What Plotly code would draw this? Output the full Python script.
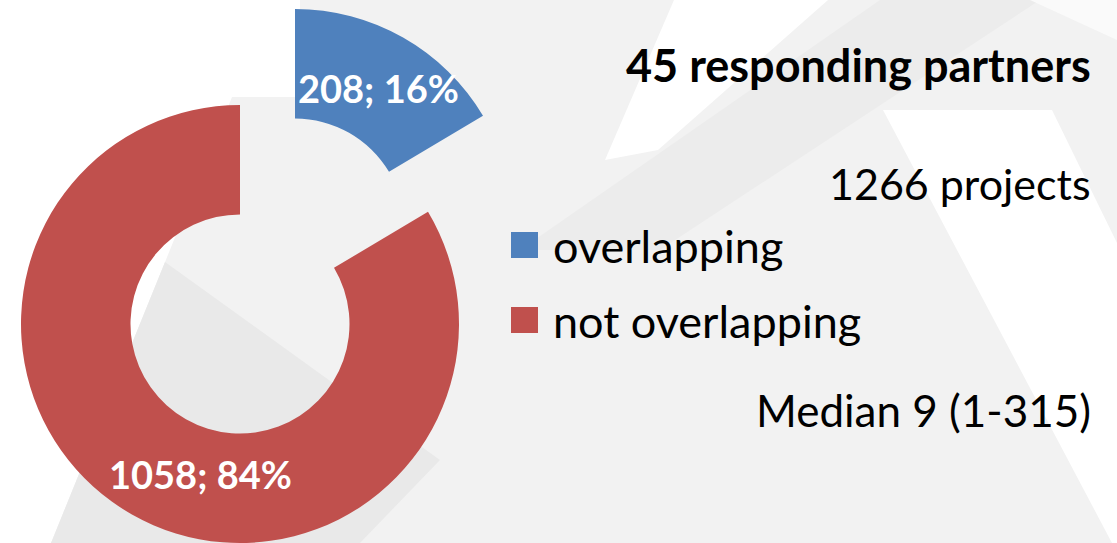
import plotly.graph_objects as go

# ---- data ----
categories = ["overlapping", "not overlapping"]
projects = [208, 1058]
slice_colors = ["#4F81BD", "#C0504D"]
headline = "45 responding partners"
total_line = "1266 projects"
median_line = "Median 9 (1-315)"

W, H = 1117, 543
FONT = "Lato"

total = sum(projects)
labels_txt = [f"{v}; {round(100 * v / total)}%" for v in projects]


def px_dom_x(a, b):
    return [a / W, b / W]


def px_dom_y(top, bottom):
    return [max(0.0, 1 - bottom / H), min(1.0, 1 - top / H)]


def px_path(pts):
    s = ""
    for i, (x, y) in enumerate(pts):
        s += ("M" if i == 0 else "L") + f"{x / W:.5f},{1 - y / H:.5f} "
    return s + "Z"


fig = go.Figure()

# main ring (not-overlapping slice visible, overlapping slice hidden: it is drawn exploded below)
fig.add_trace(go.Pie(
    labels=categories, values=projects, hole=0.5, sort=False,
    direction="clockwise", rotation=0,
    marker=dict(colors=["rgba(0,0,0,0)", slice_colors[1]], line=dict(width=0)),
    textinfo="none", showlegend=False, hoverinfo="label+value+percent",
    domain=dict(x=px_dom_x(21, 459), y=px_dom_y(105, 543)),
))
# exploded "overlapping" slice
fig.add_trace(go.Pie(
    labels=categories, values=projects, hole=0.5, sort=False,
    direction="clockwise", rotation=0,
    marker=dict(colors=[slice_colors[0], "rgba(0,0,0,0)"], line=dict(width=0)),
    textinfo="none", showlegend=False, hoverinfo="label+value+percent",
    domain=dict(x=px_dom_x(76, 514), y=px_dom_y(9, 447)),
))

shapes = []
# subtle slide background geometry
bg_polys = [
    ("#FFFFFF", [(0, 0), (300, 0), (300, 97), (232, 97), (51, 543), (0, 543)]),
    ("#E9E9E9", [(165, 262), (333, 383), (440, 460), (360, 543), (51, 543)]),
    ("#FFFFFF", [(674, 0), (828, 0), (658, 150), (605, 160)]),
    ("#ECECEC", [(520, 250), (660, 250), (1040, 0), (880, 0)]),
    ("#FFFFFF", [(883, 110), (1052, 110), (1117, 243), (1117, 543), (1112, 543)]),
    ("#FAFAFA", [(1030, 0), (1117, 0), (1117, 40)]),
]
for col, pts in bg_polys:
    shapes.append(dict(type="path", path=px_path(pts), xref="paper", yref="paper",
                       fillcolor=col, line=dict(width=0), layer="below"))

# legend swatches
leg_rows = [(232, 258), (307, 333)]
for (t, b), col in zip(leg_rows, slice_colors):
    shapes.append(dict(type="rect", xref="paper", yref="paper",
                       x0=511 / W, x1=538 / W, y0=1 - b / H, y1=1 - t / H,
                       fillcolor=col, line=dict(width=0)))

ann = []
# slice labels
ann.append(dict(text=f"<b>{labels_txt[0]}</b>", x=378 / W, y=1 - 88 / H))
ann.append(dict(text=f"<b>{labels_txt[1]}</b>", x=200 / W, y=1 - 474 / H))
for a in ann:
    a.update(xref="paper", yref="paper", showarrow=False, xanchor="center", yanchor="middle",
             font=dict(family=FONT, size=38, color="white"))

# legend text
for (t, b), name in zip(leg_rows, categories):
    ann.append(dict(text=name, xref="paper", yref="paper", x=551 / W, y=1 - ((t + b) / 2 + 1) / H,
                    xanchor="left", yanchor="middle", showarrow=False,
                    font=dict(family=FONT, size=45, color="black")))

# right-side info text
ann.append(dict(text=f"<b>{headline}</b>", x=1093 / W, y=1 - 65 / H, size=45))
ann.append(dict(text=total_line, x=1093 / W, y=1 - 183 / H, size=43))
ann.append(dict(text=median_line, x=1093 / W, y=1 - 410 / H, size=44))
for a in ann[-3:]:
    sz = a.pop("size")
    a.update(xref="paper", yref="paper", showarrow=False, xanchor="right", yanchor="middle",
             font=dict(family=FONT, size=sz, color="black"))

fig.update_layout(
    width=W, height=H, margin=dict(l=0, r=0, t=0, b=0),
    paper_bgcolor="#F2F2F2", plot_bgcolor="#F2F2F2",
    shapes=shapes, annotations=ann, showlegend=False,
)

fig.write_html("out.html", config={"displayModeBar": False},
               post_script="document.body.style.margin='0';")
